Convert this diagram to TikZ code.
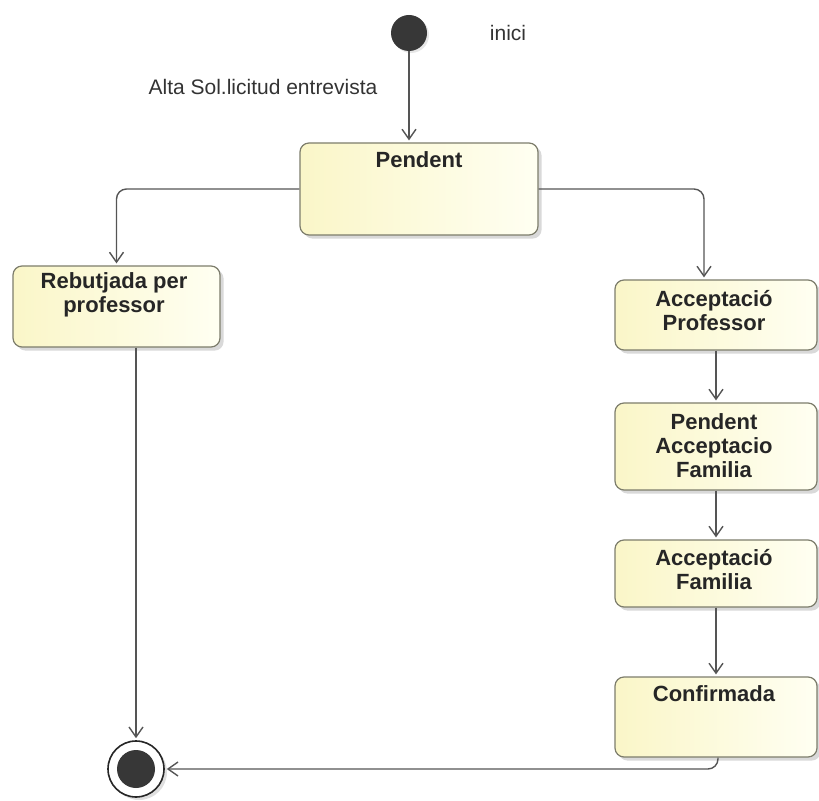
\documentclass[tikz,border=0pt]{standalone}
\usepackage{fontspec}
\setmainfont{Liberation Sans}
\usetikzlibrary{arrows.meta,positioning,shadows}

\definecolor{vora}{RGB}{125,125,108}
\definecolor{fonsesq}{RGB}{250,246,200}
\definecolor{fonsdre}{RGB}{255,255,242}
\definecolor{linia}{RGB}{85,85,85}
\definecolor{punt}{RGB}{55,55,55}

\begin{document}
\begin{tikzpicture}[x=0.5pt, y=-0.5pt, shorten >=1pt,
                    >={Straight Barb[length=5pt,width=7pt]},
                    estat/.style={draw=vora, line width=0.6pt, rounded corners=4.5pt,
                                  left color=fonsesq, right color=fonsdre, inner sep=0pt,
                                  drop shadow={shadow xshift=1.8pt, shadow yshift=-1.8pt, opacity=0.3}},
                    nom/.style={font=\fontsize{11}{12}\selectfont\bfseries, align=center,
                                inner sep=0pt, text=black!85},
                    etiqueta/.style={font=\fontsize{10.5}{12}\selectfont, inner sep=0pt, text=black!80},
                    trans/.style={->, draw=linia, line width=0.7pt},
                    inicial/.style={circle, fill=punt, minimum size=18pt, inner sep=0pt,
                                    drop shadow={shadow xshift=1pt, shadow yshift=-1pt, opacity=0.2}},
                    final/.style={circle, draw=black!85, line width=0.8pt, fill=white,
                                  minimum size=28pt, inner sep=0pt,
                                  drop shadow={shadow xshift=1.5pt, shadow yshift=-1.5pt, opacity=0.25}},
                    finaldins/.style={circle, fill=punt, minimum size=19pt, inner sep=0pt}]
    %\draw[help lines] (0,0) grid[step=50] (819,801);
    \useasboundingbox (0,0) rectangle (819,801);

    % inici i final
    \node[inicial]  (inici)      at (409,33)  {};
    \node[etiqueta] (inici_txt)  at (508,33)  {inici};
    \node[etiqueta] (alta_txt)   at (263,87)  {Alta Sol.licitud entrevista};
    \node[final]    (final)      at (136,769) {};
    \node[finaldins] (final_dins) at (final)  {};

    % estats
    \node[estat, minimum width=119pt,   minimum height=46pt]   (pendent)    at (419,189)   {};
    \node[estat, minimum width=103.5pt, minimum height=40.5pt] (rebutjada)  at (116.5,306.5) {};
    \node[estat, minimum width=101pt,   minimum height=35pt]   (acc_prof)   at (716,315)   {};
    \node[estat, minimum width=101pt,   minimum height=43.5pt] (pend_fam)   at (716,446.5) {};
    \node[estat, minimum width=101pt,   minimum height=33.5pt] (acc_fam)    at (716,573.5) {};
    \node[estat, minimum width=101pt,   minimum height=40pt]   (confirmada) at (716,717)   {};

    % noms dels estats
    \node[nom] (pendent_txt)    at (419,160) {Pendent};
    \node[nom] (rebutjada_txt)  at (114,295) {Rebutjada per\\professor};
    \node[nom] (acc_prof_txt)   at (714,311) {Acceptació\\Professor};
    \node[nom] (pend_fam_txt)   at (714,446) {Pendent\\Acceptacio\\Familia};
    \node[nom] (acc_fam_txt)    at (714,570) {Acceptació\\Familia};
    \node[nom] (confirmada_txt) at (714,694) {Confirmada};

    % transicions
    \draw[trans] (inici) -- (inici |- pendent.north);
    \draw[trans, rounded corners=5pt] (pendent.west) -| (rebutjada.north);
    \draw[trans, rounded corners=5pt] (pendent.east) -| ([xshift=-6pt]acc_prof.north);
    \path[trans]
        (acc_prof)  edge (pend_fam)
        (pend_fam)  edge (acc_fam)
        (acc_fam)   edge (confirmada);
    \draw[trans] (rebutjada.south -| final) -- (final);
    \draw[trans, rounded corners=5pt] ([xshift=1pt]confirmada.south) |- (final);

\end{tikzpicture}
\end{document}
